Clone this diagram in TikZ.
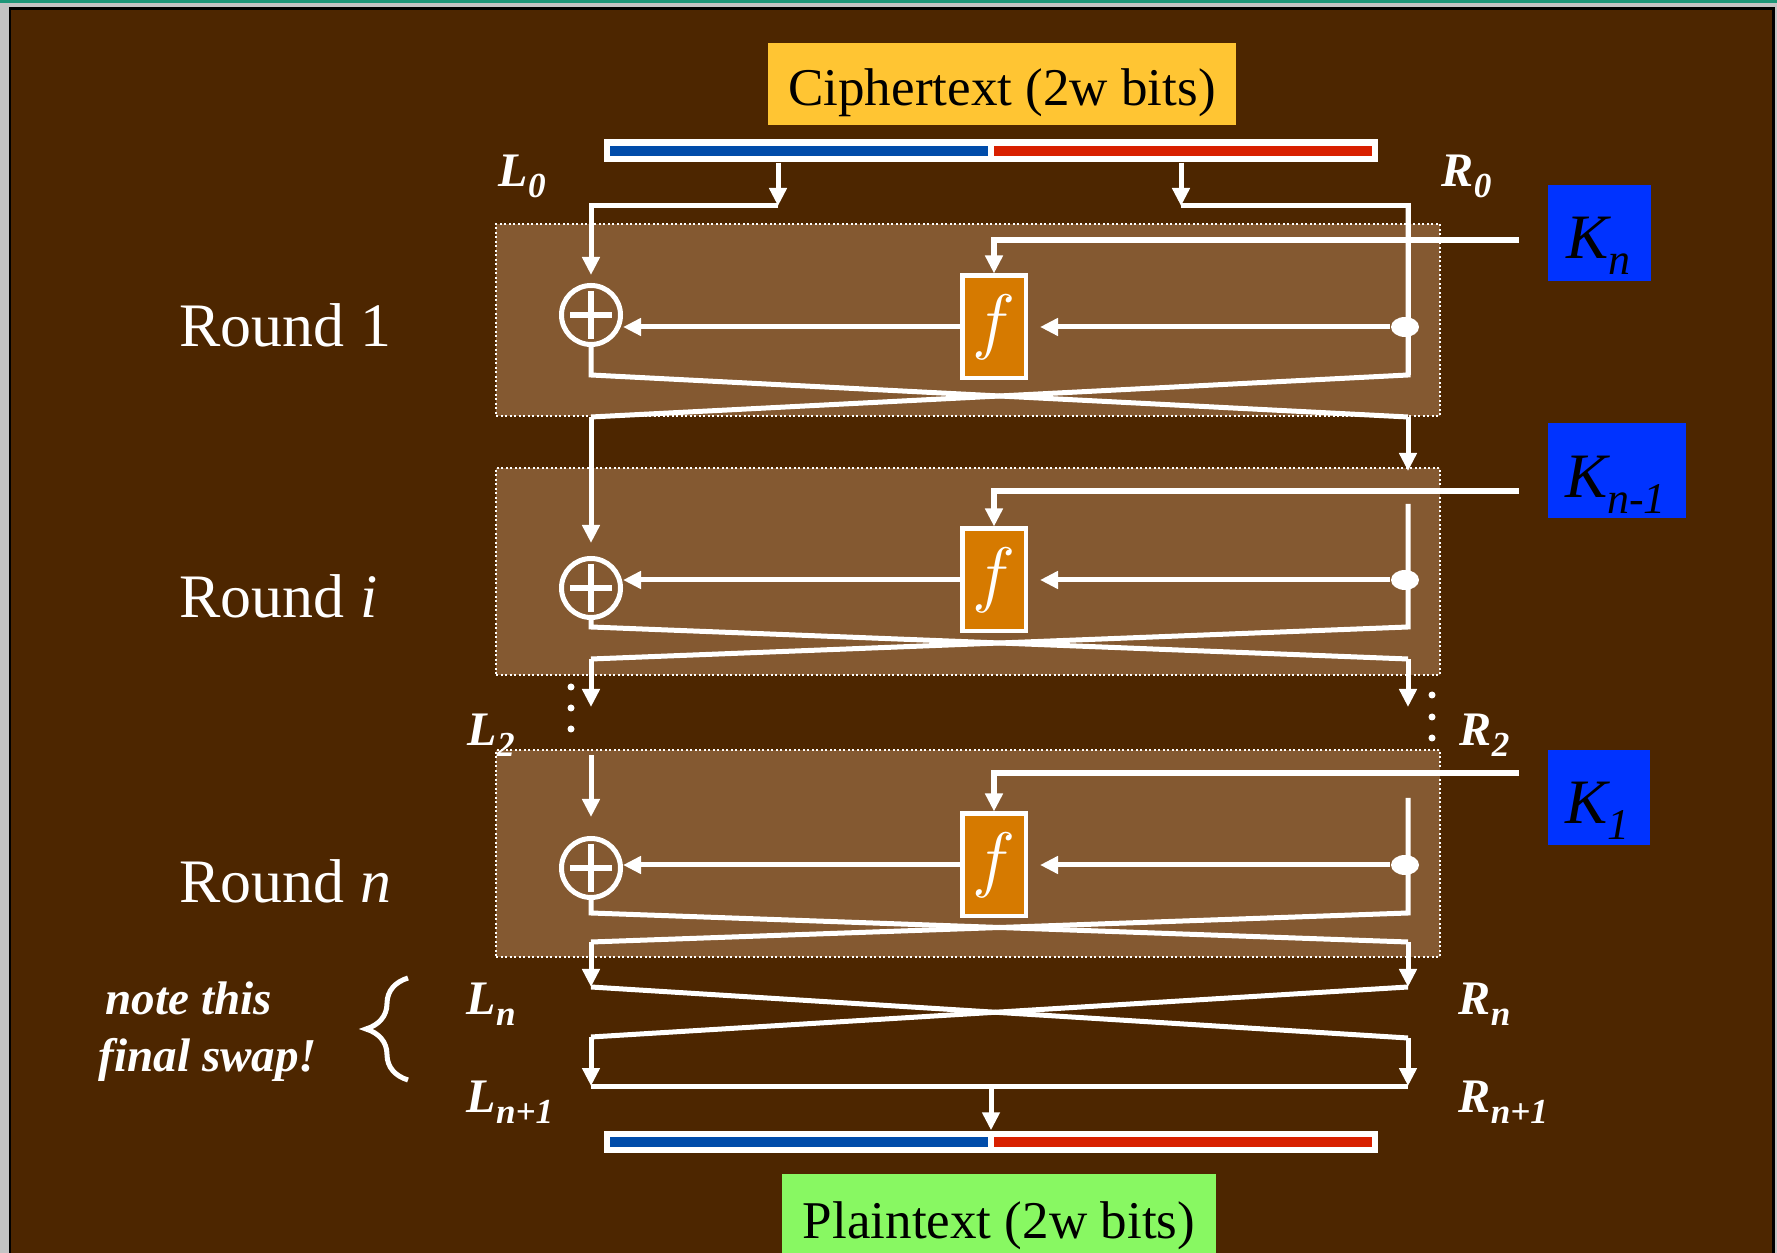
\documentclass[tikz,border=0pt]{standalone}
\usepackage{fontspec}
\setmainfont{Liberation Serif}
\usetikzlibrary{arrows.meta, shapes.geometric, decorations.pathreplacing, fit, calc}

\definecolor{frameGray}{RGB}{196,196,196}
\definecolor{frameTeal}{RGB}{30,150,120}
\definecolor{bgBrown}{RGB}{77,38,0}
\definecolor{panelBrown}{RGB}{132,89,49}
\definecolor{fOrange}{RGB}{214,122,0}
\definecolor{keyBlue}{RGB}{0,51,255}
\definecolor{cipherYellow}{RGB}{255,197,51}
\definecolor{plainGreen}{RGB}{136,248,98}
\definecolor{barBlue}{RGB}{0,76,170}
\definecolor{barRed}{RGB}{216,32,0}

\newcommand{\wireTip}{{Triangle[width=1.7mm,length=1.8mm]}}
\newcommand{\sublbl}[2]{#1\raisebox{-1.1mm}{\fontsize{10}{12}\selectfont #2}}
\newcommand{\keylbl}[2]{#1\raisebox{-1.6mm}{\fontsize{12.5}{14}\selectfont #2}}

\begin{document}
\begin{tikzpicture}[x=0.1mm, y=-0.1mm,
	wire/.style={draw=white, line width=0.5mm},
	keywire/.style={draw=white, line width=0.6mm},
	panel/.style={fill=panelBrown, draw=white, line width=0.2mm, dash pattern=on 0.2mm off 0.25mm, inner sep=0},
	titlebox/.style={rectangle, inner sep=0, text=black, font=\fontsize{15.1}{18}\selectfont},
	bar/.style={rectangle, fill=white, minimum width=77.4mm, inner sep=0},
	halfbar/.style={rectangle, minimum width=37.8mm, minimum height=1mm, inner sep=0},
	xorgate/.style={circle, draw=white, line width=0.5mm, minimum size=5.9mm, inner sep=0,
		path picture={\draw[white, line width=0.6mm] (path picture bounding box.center) +(-21,0) -- +(21,0) +(0,-24) -- +(0,24);}},
	fbox/.style={rectangle, draw=white, fill=fOrange, line width=0.45mm, minimum width=6.35mm, minimum height=10.25mm, inner sep=0, text=white, font=\fontsize{22}{24}\selectfont},
	tapdot/.style={ellipse, fill=white, minimum width=2.8mm, minimum height=2mm, inner sep=0},
	keybox/.style={rectangle, fill=keyBlue, inner sep=0},
	keytxt/.style={anchor=base west, inner sep=0, text=black, font=\fontsize{18}{20}\selectfont\itshape},
	lbl/.style={anchor=base west, inner sep=0, text=white, font=\fontsize{13.7}{16}\selectfont\bfseries\itshape},
	roundtxt/.style={anchor=base west, inner sep=0, text=white, font=\fontsize{17.6}{21}\selectfont},
	notetxt/.style={anchor=base west, inner sep=0, text=white, font=\fontsize{13.4}{16}\selectfont\bfseries\itshape}]

	% slide background
	\useasboundingbox (0,0) rectangle (1777,1253);
	\fill[frameGray] (0,0) rectangle (1777,1253);
	\fill[frameTeal] (0,0) rectangle (1777,3);
	\fill[black] (9,7) rectangle (1775,1253);
	\fill[bgBrown] (11,10) rectangle (1772,1253);

	% input block
	\node[titlebox, fill=cipherYellow, anchor=north, minimum width=46.8mm, text height=6.3mm, text depth=1.9mm] (cipher) at (1002,42) {Ciphertext (2w bits)};
	\node[bar, minimum height=2.3mm] (ctbar) at (991,150.5) {};
	\node[halfbar, fill=barBlue] (ctleft) at (799,151) {};
	\node[halfbar, fill=barRed] (ctright) at (1183,151) {};

	% round panels first, so no wire is hidden under them
	\foreach \i/\T/\B in {1/224/416, 2/468/675, 3/750/957}{
		\coordinate (pa\i) at (496,\T);
		\coordinate (pb\i) at (1440,\B);
		\node[panel, fit=(pa\i)(pb\i)] (panel\i) {};
	}

	% the three rounds
	\foreach \i/\X/\F/\Rs/\Ca/\Cb/\Lend/\Rend in {
			1/315/327/206/375/417/543/471,
			2/588/580/504/627/659/707/707,
			3/868/865/798/913/942/987/987}{
		\coordinate (ra\i) at (1408,\Rs);
		\coordinate (rb\i) at (1408,\Ca);
		\coordinate (lb\i) at (591,\Ca);
		\coordinate (lo\i) at (591,\Cb);
		\coordinate (ro\i) at (1408,\Cb);
		\coordinate (le\i) at (591,\Lend);
		\coordinate (re\i) at (1408,\Rend);
		\node[xorgate] (xor\i) at (591,\X) {};
		\draw[wire] (ra\i) -- (rb\i) -- (lo\i);
		\draw[wire] (xor\i.south) -- (lb\i) -- (ro\i);
		\draw[wire,-\wireTip] (lo\i) -- (le\i);
		\draw[wire,-\wireTip] (ro\i) -- (re\i);
		\node[fbox] (f\i) at (994,\F) {$f$};
		\node[tapdot] (tap\i) at (1405,\F) {};
		\draw[wire,-\wireTip] (tap\i) -- ([xshift=1.2mm]f\i.east);
		\draw[wire,-\wireTip] (f\i.west) -- (f\i.west -| xor\i.east);
	}

	% halves into round 1
	\coordinate (tapL) at (778,206);
	\coordinate (tapR) at (1181,206);
	\draw[wire,-\wireTip] (ctbar.south -| tapL) -- (tapL);
	\draw[wire,-\wireTip] (tapL) -| ([yshift=0.8mm]xor1.north);
	\draw[wire,-\wireTip] (ctbar.south -| tapR) -- (tapR);
	\draw[wire] (tapR) -- (ra1) -- (rb1);

	\coordinate (li3) at (591,755);
	\draw[wire,-\wireTip] (li3) -- ([yshift=1.9mm]xor3.north);

	% dots between round i and round n
	\foreach \y in {687,708,729} \fill[white] (571,\y) circle[radius=0.35mm];
	\foreach \y in {695,717,738} \fill[white] (1432,\y) circle[radius=0.35mm];

	% subkeys
	\node[keybox, minimum width=10.3mm, minimum height=9.6mm] (key1) at (1599.5,233) {};
	\node[keybox, minimum width=13.8mm, minimum height=9.5mm] (key2) at (1617,470.5) {};
	\node[keybox, minimum width=10.2mm, minimum height=9.5mm] (key3) at (1599,797.5) {};
	\node[keytxt] (kname1) at ($(key1.south west)+(18,-23)$) {\keylbl{K}{n}};
	\node[keytxt] (kname2) at ($(key2.south west)+(17,-21)$) {\keylbl{K}{n-1}};
	\node[keytxt] (kname3) at ($(key3.south west)+(17,-22)$) {\keylbl{K}{1}};
	\coordinate (kin1) at (1519,240);
	\coordinate (kin2) at (1519,491);
	\coordinate (kin3) at (1519,773);
	\draw[keywire,-\wireTip] (kin1) -| (f1.north);
	\draw[keywire,-\wireTip] (kin2) -| (f2.north);
	\draw[keywire,-\wireTip] (kin3) -| (f3.north);

	% final swap and output block
	\coordinate (ln1) at (591,1037);
	\coordinate (rn1) at (1408,1038);
	\coordinate (lbot) at (591,1086);
	\coordinate (rbot) at (1408,1086);
	\draw[wire] (le3) -- (rn1);
	\draw[wire] (re3) -- (ln1);
	\draw[wire,-\wireTip] (ln1) -- (lbot);
	\draw[wire,-\wireTip] (rn1) -- (rbot);
	\draw[wire] (lbot) -- (rbot);

	\node[bar, minimum height=2.2mm] (ptbar) at (991,1142) {};
	\node[halfbar, fill=barBlue] (ptleft) at (799,1142) {};
	\node[halfbar, fill=barRed] (ptright) at (1183,1142) {};
	\draw[wire,-\wireTip] (lbot -| ptbar.north) -- (ptbar.north);
	\node[titlebox, fill=plainGreen, anchor=north, minimum width=43.4mm, text height=6.5mm, text depth=1.5mm] (plain) at (999,1173) {Plaintext (2w bits)};

	% labels
	\node[roundtxt] (rnd1) at (179,347) {Round 1};
	\node[roundtxt] (rnd2) at (179,618) {Round \textit{i}};
	\node[roundtxt] (rnd3) at (179,903) {Round \textit{n}};
	\node[lbl] (nameL0) at (498,187) {\sublbl{L}{0}};
	\node[lbl] (nameR0) at (1441,187) {\sublbl{R}{0}};
	\node[lbl] (nameL2) at (467,746) {\sublbl{L}{2}};
	\node[lbl] (nameR2) at (1459,746) {\sublbl{R}{2}};
	\node[lbl] (nameLn) at (466,1015) {\sublbl{L}{n}};
	\node[lbl] (nameRn) at (1458,1015) {\sublbl{R}{n}};
	\node[lbl] (nameLn1) at (466,1112) {\sublbl{L}{n+1}};
	\node[lbl] (nameRn1) at (1458,1112) {\sublbl{R}{n+1}};

	\node[notetxt] (note1) at (105,1015) {note this};
	\node[notetxt] (note2) at (98,1072) {final swap!};
	\coordinate (brBot) at (408,1080);
	\coordinate (brTop) at (408,978);
	\draw[white, line width=0.5mm, decorate, decoration={brace, amplitude=4.2mm}] (brBot) -- (brTop);
\end{tikzpicture}
\end{document}
